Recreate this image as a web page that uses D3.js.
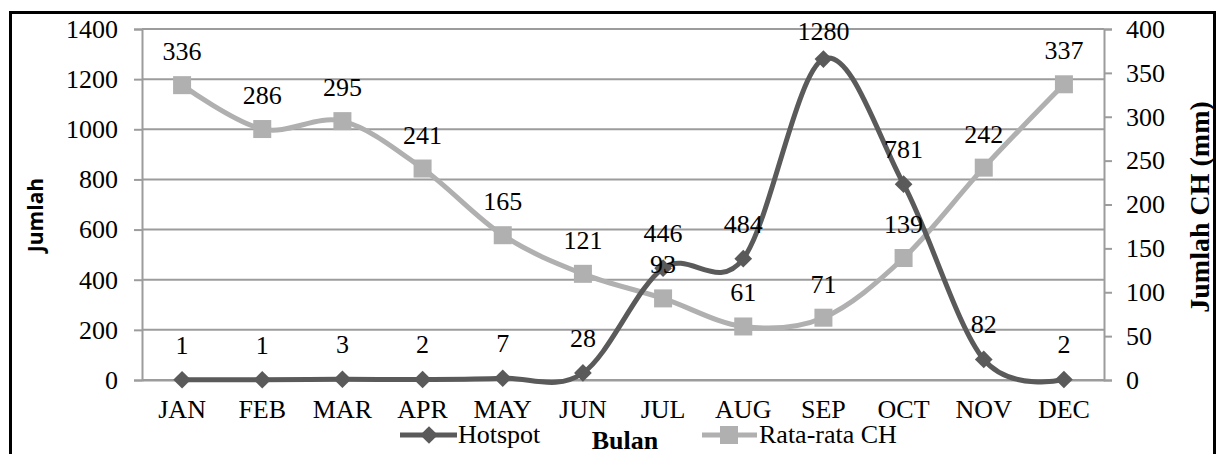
<!DOCTYPE html>
<html>
<head>
<meta charset="utf-8">
<script src="https://cdn.jsdelivr.net/npm/d3@7"></script>
<style>
  html, body { margin: 0; padding: 0; background: #fff; }
  svg { display: block; }
</style>
</head>
<body>
<svg id="chart" width="1219" height="454"></svg>
<script>
// Monthly hotspot counts and average rainfall (Rata-rata CH)
const months = ["JAN","FEB","MAR","APR","MAY","JUN","JUL","AUG","SEP","OCT","NOV","DEC"];
const hotspot = [1, 1, 3, 2, 7, 28, 446, 484, 1280, 781, 82, 2];
const rainfall = [336, 286, 295, 241, 165, 121, 93, 61, 71, 139, 242, 337];
const leftTicks = [0, 200, 400, 600, 800, 1000, 1200, 1400];
const rightTicks = [0, 50, 100, 150, 200, 250, 300, 350, 400];

const svg = d3.select("#chart");
const plot = { left: 142, right: 1104, top: 29, bottom: 380 };
const serif = "Liberation Serif, Times New Roman, serif";
const fs = 26;

// Outer frame
svg.append("rect")
  .attr("x", 10.5).attr("y", 12.5)
  .attr("width", 1204).attr("height", 460)
  .attr("fill", "none").attr("stroke", "#000").attr("stroke-width", 3);

const x = d3.scaleBand().domain(months).range([plot.left, plot.right]);
const yL = d3.scaleLinear().domain([0, 1400]).range([plot.bottom, plot.top]);
const yR = d3.scaleLinear().domain([0, 400]).range([plot.bottom, plot.top]);
const cx = m => x(m) + x.bandwidth() / 2;
const gridColor = "#9c9c9c";

// Horizontal gridlines
svg.append("g").selectAll("line").data(leftTicks).join("line")
  .attr("x1", plot.left).attr("x2", plot.right)
  .attr("y1", d => yL(d)).attr("y2", d => yL(d))
  .attr("stroke", gridColor).attr("stroke-width", 2);

function styleAxis(g) {
  g.select(".domain").attr("stroke", gridColor).attr("stroke-width", 2);
  g.selectAll(".tick line").attr("stroke", gridColor).attr("stroke-width", 2);
  g.selectAll(".tick text").attr("font-family", serif).attr("font-size", fs).attr("fill", "#000");
}

// Left axis
svg.append("g").attr("transform", `translate(${plot.left},0)`)
  .call(d3.axisLeft(yL).tickValues(leftTicks).tickFormat(d3.format("d")).tickSize(8).tickPadding(16))
  .call(styleAxis);

// Right axis
svg.append("g").attr("transform", `translate(${plot.right},0)`)
  .call(d3.axisRight(yR).tickValues(rightTicks).tickFormat(d3.format("d")).tickSize(8).tickPadding(14))
  .call(styleAxis);

// Bottom axis labels
svg.append("g").attr("transform", `translate(0,${plot.bottom})`)
  .call(d3.axisBottom(x).tickSize(0).tickPadding(20))
  .call(styleAxis);

// Axis titles
svg.append("text")
  .attr("transform", `translate(43,${215}) rotate(-90)`)
  .attr("text-anchor", "middle")
  .attr("font-family", "Open Sans, DejaVu Sans, sans-serif")
  .attr("font-weight", "bold").attr("font-size", 21)
  .text("Jumlah");
svg.append("text")
  .attr("transform", `translate(1209,${207}) rotate(-90)`)
  .attr("text-anchor", "middle")
  .attr("font-family", serif).attr("font-weight", "bold").attr("font-size", 28)
  .text("Jumlah CH (mm)");

// Smoothed lines
const curve = d3.curveCardinal.tension(0);
const lineR = d3.line().x((d, i) => cx(months[i])).y(d => yR(d)).curve(curve);
const lineL = d3.line().x((d, i) => cx(months[i])).y(d => yL(d)).curve(curve);

const lightGray = "#b0b0b0", darkGray = "#5a5a5a";
const diamond = d3.symbol().type(d3.symbolDiamond2).size(200);
const sq = 18;

svg.append("path").attr("d", lineR(rainfall))
  .attr("fill", "none").attr("stroke", lightGray).attr("stroke-width", 5);
svg.append("g").selectAll("rect").data(rainfall).join("rect")
  .attr("x", (d, i) => cx(months[i]) - sq / 2).attr("y", d => yR(d) - sq / 2)
  .attr("width", sq).attr("height", sq).attr("fill", lightGray);

svg.append("path").attr("d", lineL(hotspot))
  .attr("fill", "none").attr("stroke", darkGray).attr("stroke-width", 5);
svg.append("g").selectAll("path").data(hotspot).join("path")
  .attr("d", diamond)
  .attr("transform", (d, i) => `translate(${cx(months[i])},${yL(d)})`)
  .attr("fill", darkGray);

// Data labels (kept inside the chart frame near the top)
const labelY = py => Math.max(py - 26, 40);
svg.append("g").selectAll("text").data(rainfall).join("text")
  .attr("x", (d, i) => cx(months[i])).attr("y", d => labelY(yR(d) + 1))
  .attr("text-anchor", "middle").attr("font-family", serif).attr("font-size", fs)
  .text(d => d);
svg.append("g").selectAll("text").data(hotspot).join("text")
  .attr("x", (d, i) => cx(months[i])).attr("y", d => labelY(yL(d)))
  .attr("text-anchor", "middle").attr("font-family", serif).attr("font-size", fs)
  .text(d => d);

// Legend
const lgY = 435;
const lg1 = svg.append("g");
lg1.append("line").attr("x1", 400).attr("x2", 457).attr("y1", lgY).attr("y2", lgY)
  .attr("stroke", darkGray).attr("stroke-width", 5);
lg1.append("path").attr("d", diamond).attr("transform", `translate(429,${lgY})`).attr("fill", darkGray);
lg1.append("text").attr("x", 458).attr("y", lgY + 8)
  .attr("font-family", serif).attr("font-size", fs).text("Hotspot");

const lg2 = svg.append("g");
lg2.append("line").attr("x1", 702).attr("x2", 757).attr("y1", lgY).attr("y2", lgY)
  .attr("stroke", lightGray).attr("stroke-width", 5);
lg2.append("rect").attr("x", 729 - sq / 2).attr("y", lgY - sq / 2).attr("width", sq).attr("height", sq).attr("fill", lightGray);
lg2.append("text").attr("x", 759).attr("y", lgY + 8)
  .attr("font-family", serif).attr("font-size", fs).text("Rata-rata CH");

svg.append("text").attr("x", 625).attr("y", 449).attr("text-anchor", "middle")
  .attr("font-family", serif).attr("font-weight", "bold").attr("font-size", fs)
  .text("Bulan");
</script>
</body>
</html>
